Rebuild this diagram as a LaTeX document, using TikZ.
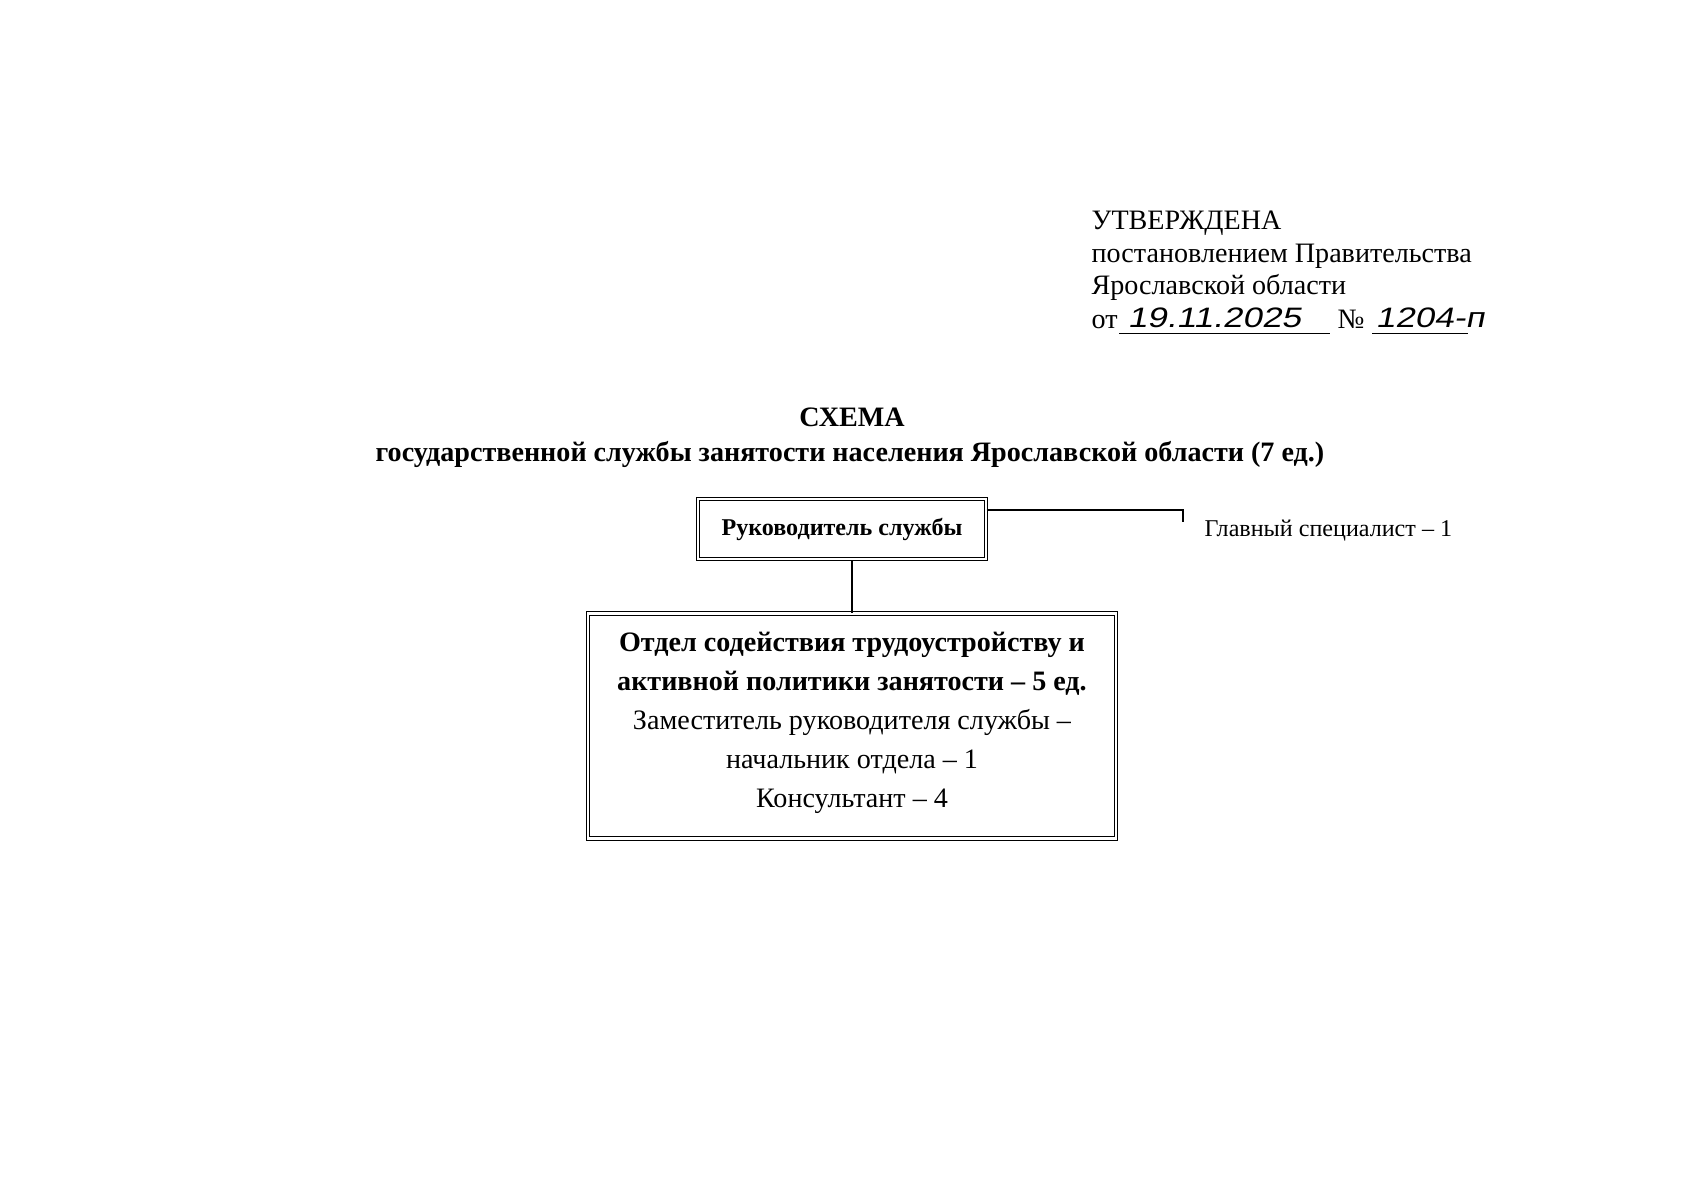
\documentclass[tikz,border=0pt]{standalone}
\usepackage{fontspec}
\setmainfont{Liberation Serif}
\newfontfamily\handfont[FakeStretch=1.25,FakeSlant=0.2]{Liberation Sans}
\usetikzlibrary{positioning}

\begin{document}
\begin{tikzpicture}[x=0.175mm,y=-0.175mm,line width=0.6pt,
  frame/.style={draw,line width=0.5pt,double,double distance=1.4pt,align=center,inner sep=0pt},
  plain/.style={inner sep=0pt,anchor=base west,font=\fontsize{14}{16}\selectfont},
  hand/.style={inner sep=0pt,anchor=base west,font=\handfont\fontsize{14}{16}\selectfont}]
  \useasboundingbox (0,0) rectangle (1697,1200);
  % гриф утверждения
  \node[plain] (appr) at (1091,229) {УТВЕРЖДЕНА};
  \node[plain] (decree) at (1091,262) {постановлением Правительства};
  \node[plain] (region) at (1091,294) {Ярославской области};
  \node[plain] (ot) at (1091,328) {от};
  \node[plain] (numsign) at (1337,328) {№};
  \coordinate (dateL) at (1119,333); \coordinate (dateR) at (1330,333);
  \coordinate (numL) at (1372,333); \coordinate (numR) at (1468,333);
  \draw[line width=0.4pt] (dateL) -- (dateR); % линия под датой
  \draw[line width=0.4pt] (numL) -- (numR); % линия под номером
  \node[hand] (date) at (1127,327) {19.11.2025};
  \node[hand] (regno) at (1375,327) {1204-п};
  % заголовок
  \node[anchor=base,inner sep=0pt,font=\bfseries\fontsize{14}{16}\selectfont] (title) at (852,426) {СХЕМА};
  \node[anchor=base,inner sep=0pt,font=\bfseries\fontsize{14}{16}\selectfont] (subtitle) at (850,461)
    {государственной службы занятости населения Ярославской области (7 ед.)};
  % блоки схемы
  \node[frame,minimum width=50.4mm,minimum height=10.5mm,font=\bfseries\fontsize{12}{14}\selectfont]
    (boss) at (842,529) {Руководитель службы};
  \node[frame,minimum width=92.4mm,minimum height=39.4mm,font=\fontsize{14}{19.5}\selectfont]
    (dept) at (852,726) {\textbf{Отдел содействия трудоустройству и}\\
      \textbf{активной политики занятости – 5 ед.}\\
      Заместитель руководителя службы –\\
      начальник отдела – 1\\
      Консультант – 4\vspace{3pt}};
  \node[anchor=base west,inner sep=0pt,font=\fontsize{12}{14}\selectfont] (chief) at (1204,536) {Главный специалист – 1};
  % связи
  \coordinate (tick) at (1183,510);
  \draw (tick -| boss.east) -- (tick) -- ++(0,12); % к главному специалисту
  \draw (dept.north) -- (dept.north |- boss.south); % к отделу
\end{tikzpicture}
\end{document}
